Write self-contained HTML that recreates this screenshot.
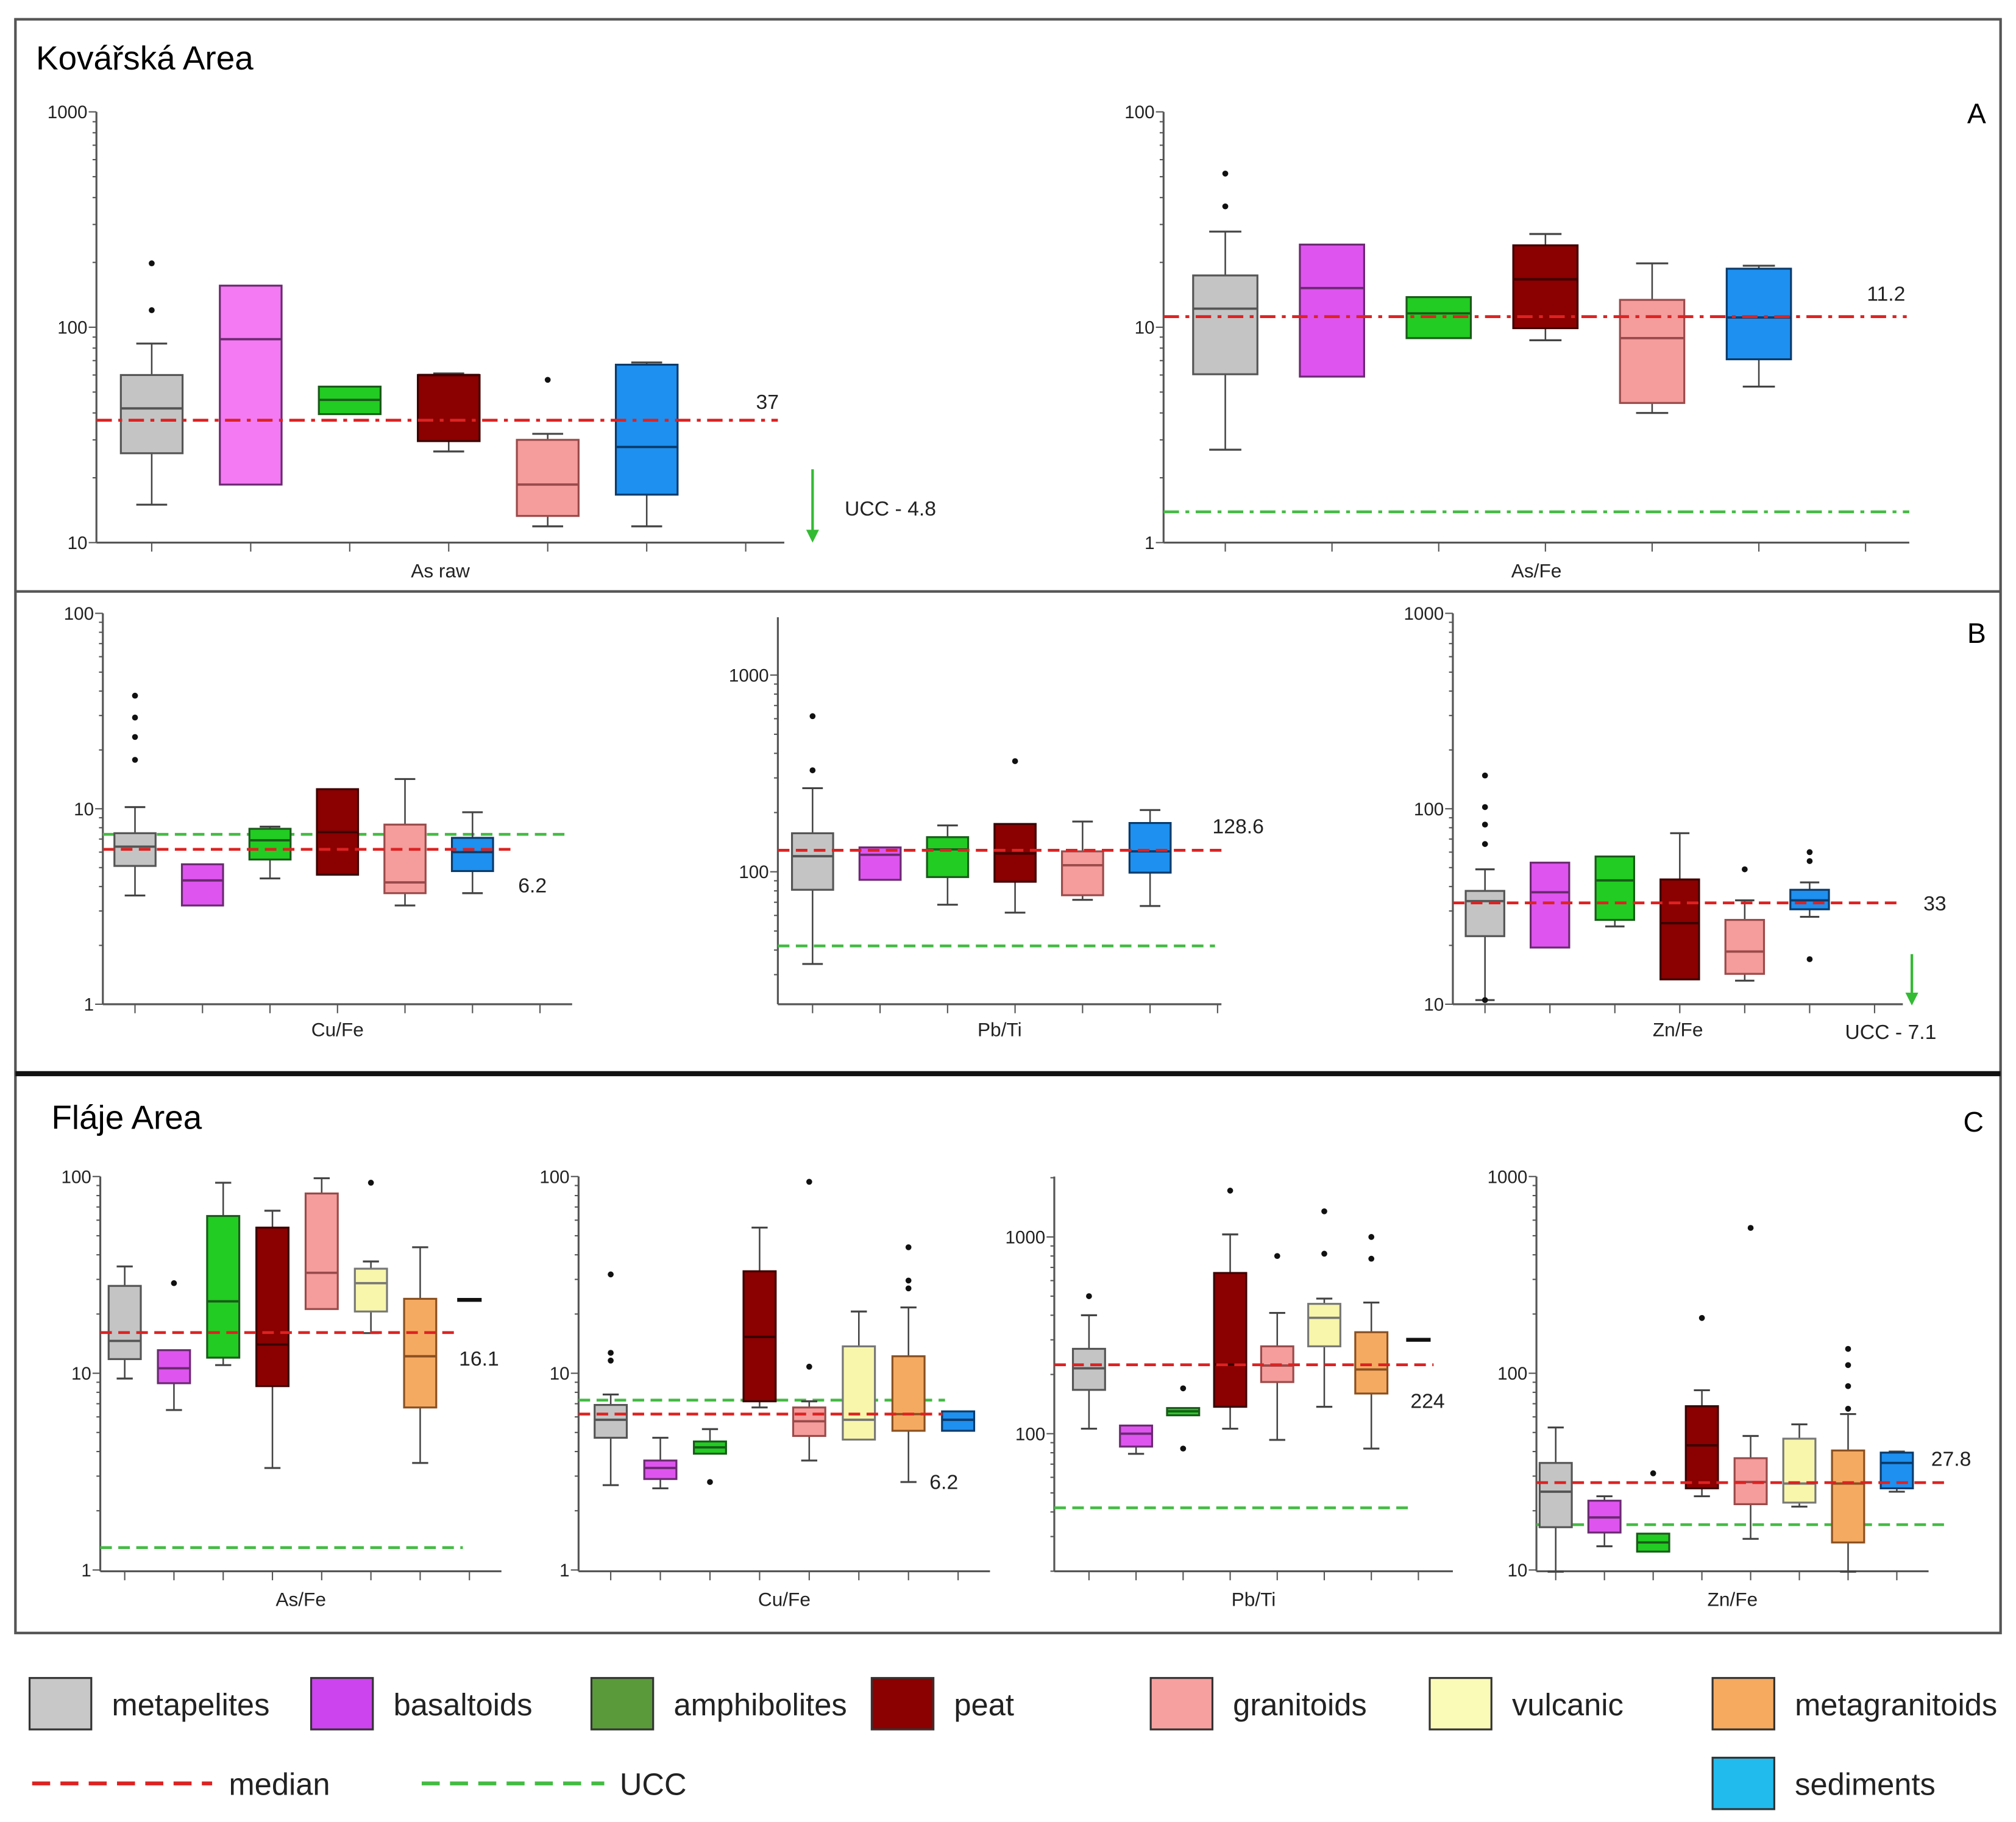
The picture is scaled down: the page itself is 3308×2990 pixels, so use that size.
<!DOCTYPE html>
<html><head><meta charset="utf-8"><style>
html,body{margin:0;padding:0;background:#fff}
svg{display:block}
text{font-family:"Liberation Sans",Arial,sans-serif}
</style></head><body>
<svg id="fig" width="3308" height="2990" viewBox="0 0 1568 1417" preserveAspectRatio="none" xmlns="http://www.w3.org/2000/svg">
<rect x="12" y="15" width="1544" height="1255" fill="none" stroke="#555" stroke-width="2"/>
<line x1="12" y1="460" x2="1556" y2="460" stroke="#555" stroke-width="2"/>
<line x1="12" y1="835" x2="1556" y2="835" stroke="#111" stroke-width="4"/>
<text x="28" y="54" font-size="26">Kovářská Area</text>
<text x="40" y="878" font-size="26">Fláje Area</text>
<text x="1530" y="96" font-size="22">A</text>
<text x="1530" y="500" font-size="22">B</text>
<text x="1527" y="880" font-size="22">C</text>
<g id="charts"></g>
<g id="legend"></g>
</svg>
<script>
const catsK = ["metapelites","basaltoids","amphibolites","peat","granitoids","sediments"];
const catsF = ["metapelites","basaltoids","amphibolites","peat","granitoids","vulcanic","metagranitoids","sediments"];
// [low, q1, median, q3, high] ; null whiskers -> box only
const A1_stats = [[15,26,42,60,84],[18.6,18.6,88,156,156],[39.5,39.5,46,53,53],[26.5,29.6,60,60,61],[11.9,13.3,18.6,30,32],[11.9,16.7,27.8,67,68.6]];
const A1_out = [[198,120],[],[],[],[57],[]];
const A2_stats = [[2.7,6.05,12.2,17.4,27.8],[5.9,5.9,15.2,24.2,24.2],[8.9,8.9,11.6,13.8,13.8],[8.7,9.9,16.7,24,27.1],[4.0,4.45,8.9,13.4,19.8],[5.3,7.1,11.1,18.7,19.3]];
const A2_out = [[51.7,36.4],[],[],[],[],[]];
const B1_stats = [[3.6,5.1,6.4,7.5,10.2],[3.2,3.2,4.3,5.2,5.2],[4.4,5.5,6.9,7.9,8.1],[4.6,4.6,7.6,12.6,12.6],[3.2,3.7,4.2,8.3,14.2],[3.7,4.8,6.0,7.1,9.6]];
const B1_out = [[37.9,29.3,23.3,17.8],[],[],[],[],[]];
const B2_stats = [[34,81,120,157,266],[91,91,122,133,133],[68,94,130,150,172],[62,89,124,175,175],[72,76,108,127,180],[67,99,127,177,206]];
const B2_out = [[618,328],[],[],[365],[],[]];
const B3_stats = [[10.5,22.3,33.7,38,49],[19.5,19.5,37.4,53,53],[25,27,43,57,57],[13.4,13.4,26,43.5,75],[13.2,14.3,18.6,27,34],[28,30.6,34,38.5,42]];
const B3_out = [[148,102,83,66,10.5],[],[],[],[49],[60,54,17]];
const C1_stats = [[9.4,11.8,14.6,27.8,34.9],[6.5,8.9,10.6,13.1,13.1],[11,12,23.2,63,93],[3.3,8.6,14,55,67],[21.2,21.2,32.4,82,98],[16,20.6,28.7,34,37],[3.5,6.7,12.2,23.9,43.7],[23.6,23.6,23.6,23.6,23.6]];
const C1_out = [[],[28.7],[],[],[],[93],[],[]];
const C2_stats = [[2.7,4.7,5.8,6.9,7.8],[2.6,2.9,3.3,3.6,4.7],[3.9,3.9,4.2,4.5,5.2],[6.7,7.2,15.3,33,55],[3.6,4.8,5.7,6.7,7.2],[4.6,4.6,5.8,13.7,20.6],[2.8,5.1,6.2,12.2,21.6],[5.1,5.1,5.8,6.4,6.4]];
const C2_out = [[31.8,12.7,11.6],[],[2.8],[],[94,10.8],[],[43.7,29.6,27.0],[]];
const C3_stats = [[106,167,215,270,400],[79,86,100,110,110],[124,124,130,135,135],[106,137,225,656,1030],[93,183,222,278,411],[137,278,388,457,486],[84,160,212,328,464],[300,300,300,300,300]];
const C3_out = [[500],[],[170,84],[1720],[800],[1350,822],[1000,775],[]];
const C4_stats = [[9.8,16.5,25,35,53],[13.2,15.5,18.5,22.5,23.7],[12.4,12.4,13.8,15.3,15.3],[23.7,26,43,68,82],[14.4,21.6,28,37,48],[21,22,27.5,46.5,55],[9.8,13.8,27.5,40.5,62],[25,26,35,39.5,40]];
const C4_out = [[],[],[31],[191],[548],[],[133,110,86,66],[]];
const medianVals = {A1:37,A2:11.2,B1:6.2,B2:128.6,B3:33,C1:16.1,C2:6.2,C3:224,C4:27.8};
const medianLabels = {A1:"37",A2:"11.2",B1:"6.2",B2:"128.6",B3:"33",C1:"16.1",C2:"6.2",C3:"224",C4:"27.8"};
const uccVals = {A2:1.39,B1:7.4,B2:42,C1:1.3,C2:7.3,C3:42,C4:17};

const fill = {metapelites:"#c4c4c4",basaltoids:"#dd55ee",amphibolites:"#22cc22",peat:"#8b0000",granitoids:"#f59c9c",vulcanic:"#f8f6aa",metagranitoids:"#f5aa62",sediments:"#1e90ef"};
const stroke = {metapelites:"#555",basaltoids:"#6a2a70",amphibolites:"#1a5a1a",peat:"#3a0000",granitoids:"#9a4a4a",vulcanic:"#777",metagranitoids:"#8a5020",sediments:"#0a3a6a"};

const NS="http://www.w3.org/2000/svg";
function mk(tag,attrs,parent){const e=document.createElementNS(NS,tag);for(const k in attrs)e.setAttribute(k,attrs[k]);parent.appendChild(e);return e;}

const charts = [
 {id:"A1",title:"As raw",cats:catsK,stats:A1_stats,out:A1_out,x0:75,x1:610,top:87,bot:422,refV:1000,refY:87,dec:167.5,ticks:[1000,100,10],c0:118,step:77,w:48,medEnd:605,medDash:"12,5,3,5",labX:588,labY:318,lblY:449},
 {id:"A2",title:"As/Fe",cats:catsK,stats:A2_stats,out:A2_out,x0:905,x1:1485,top:87,bot:422,refV:100,refY:87,dec:167.5,ticks:[100,10,1],c0:953,step:83,w:50,medEnd:1483,medDash:"12,5,3,5",labX:1452,labY:234,lblY:449,uccEnd:1485,uccDash:"12,5,3,5"},
 {id:"B1",title:"Cu/Fe",cats:catsK,stats:B1_stats,out:B1_out,x0:80,x1:445,top:477,bot:781,refV:100,refY:477,dec:152,ticks:[100,10,1],c0:105,step:52.5,w:32,medEnd:398,medDash:"9,5",labX:403,labY:694,lblY:806,uccEnd:440,uccDash:"9,5"},
 {id:"B2",title:"Pb/Ti",cats:catsK,stats:B2_stats,out:B2_out,x0:605,x1:950,top:480,bot:781,refV:1000,refY:525,dec:153,ticks:[1000,100],c0:632,step:52.5,w:32,medEnd:955,medDash:"9,5",labX:943,labY:648,lblY:806,uccEnd:945,uccDash:"9,5"},
 {id:"B3",title:"Zn/Fe",cats:catsK,stats:B3_stats,out:B3_out,x0:1130,x1:1480,top:477,bot:781,refV:1000,refY:477,dec:152,ticks:[1000,100,10],c0:1155,step:50.5,w:30,medEnd:1478,medDash:"9,5",labX:1496,labY:708,lblY:806},
 {id:"C1",title:"As/Fe",cats:catsF,stats:C1_stats,out:C1_out,x0:78,x1:390,top:915,bot:1222,refV:100,refY:915,dec:153,ticks:[100,10,1],c0:97,step:38.3,w:25,medEnd:355,medDash:"9,5",labX:357,labY:1062,lblY:1249,uccEnd:360,uccDash:"9,5"},
 {id:"C2",title:"Cu/Fe",cats:catsF,stats:C2_stats,out:C2_out,x0:450,x1:770,top:915,bot:1222,refV:100,refY:915,dec:153,ticks:[100,10,1],c0:475,step:38.6,w:25,medEnd:733,medDash:"9,5",labX:723,labY:1158,lblY:1249,uccEnd:735,uccDash:"9,5"},
 {id:"C3",title:"Pb/Ti",cats:catsF,stats:C3_stats,out:C3_out,x0:820,x1:1130,top:915,bot:1222,refV:1000,refY:962,dec:153,ticks:[1000,100],c0:847,step:36.6,w:25,medEnd:1115,medDash:"9,5",labX:1097,labY:1095,lblY:1249,uccEnd:1095,uccDash:"9,5"},
 {id:"C4",title:"Zn/Fe",cats:catsF,stats:C4_stats,out:C4_out,x0:1195,x1:1500,top:915,bot:1222,refV:1000,refY:915,dec:153,ticks:[1000,100,10],c0:1210,step:37.9,w:25,medEnd:1515,medDash:"9,5",labX:1502,labY:1140,lblY:1249,uccEnd:1515,uccDash:"9,5"}
];

const root=document.getElementById("charts");
charts.forEach(c=>{
  const g=mk("g",{},root);
  
  
  const y=v=>c.refY+(Math.log10(c.refV)-Math.log10(v))*c.dec;
  const xc=i=>c.c0+i*c.step;
  // axes
  const ya=mk("line",{x1:c.x0,y1:c.top,x2:c.x0,y2:c.bot,stroke:"#555","stroke-width":1.5},g);
  
  
  const xa=mk("line",{x1:c.x0,y1:c.bot,x2:c.x1,y2:c.bot,stroke:"#555","stroke-width":1.5},g);
  
  
  // minor ticks
  const lo=Math.log10(c.refV)-(c.bot-c.refY)/c.dec, hi=Math.log10(c.refV)+(c.refY-c.top)/c.dec;
  for(let d=Math.floor(lo);d<=Math.ceil(hi);d++){for(let m=1;m<10;m++){const v=m*Math.pow(10,d);const yy=y(v);if(yy<c.top-0.5||yy>c.bot+0.5)continue;
    mk("line",{x1:c.x0-(m===1?6:3),y1:yy,x2:c.x0,y2:yy,stroke:"#555","stroke-width":1},g);}}
  c.ticks.forEach(t=>{const tl=mk("text",{x:c.x0-7,y:y(t)+5,"font-size":14,"text-anchor":"end",fill:"#222"},g);tl.textContent=t;
    
    });
  for(let i=0;i<=c.cats.length;i++){const xx=xc(i);if(xx>c.x1)break;mk("line",{x1:xx,y1:c.bot,x2:xx,y2:c.bot+7,stroke:"#555","stroke-width":1},g);}
  const tt=mk("text",{x:(c.x0+c.x1)/2,y:c.lblY,"font-size":15,"text-anchor":"middle",fill:"#222"},g);tt.textContent=c.title;
  
  
  // ucc line
  if(uccVals[c.id]!==undefined){const u=mk("line",{x1:c.x0,y1:y(uccVals[c.id]),x2:c.uccEnd,y2:y(uccVals[c.id]),stroke:"#44bb44","stroke-width":2.2,"stroke-dasharray":c.uccDash},g);
    
    }
  // boxes
  c.stats.forEach((s,i)=>{
    const cat=c.cats[i];const x=xc(i);const bg=mk("g",{},g);
    
    
    const [lo,q1,md,q3,hi]=s;
    if(q1===q3){mk("line",{x1:x-c.w/2+3,y1:y(md),x2:x+c.w/2-3,y2:y(md),stroke:"#111","stroke-width":3},bg);return;}
    mk("line",{x1:x,y1:y(hi),x2:x,y2:y(q3),stroke:"#444","stroke-width":1.2},bg);
    mk("line",{x1:x,y1:y(q1),x2:x,y2:y(lo),stroke:"#444","stroke-width":1.2},bg);
    if(hi>q3)mk("line",{x1:x-c.w/4,y1:y(hi),x2:x+c.w/4,y2:y(hi),stroke:"#444","stroke-width":1.5},bg);
    if(lo<q1)mk("line",{x1:x-c.w/4,y1:y(lo),x2:x+c.w/4,y2:y(lo),stroke:"#444","stroke-width":1.5},bg);
    let f=fill[cat]; if(c.id==="A1"&&cat==="basaltoids")f="#f47af4";
    mk("rect",{x:x-c.w/2,y:y(q3),width:c.w,height:y(q1)-y(q3),fill:f,stroke:stroke[cat],"stroke-width":1.5},bg);
    mk("line",{x1:x-c.w/2,y1:y(md),x2:x+c.w/2,y2:y(md),stroke:stroke[cat],"stroke-width":1.8},bg);
    c.out[i].forEach(o=>{const p=mk("circle",{cx:x,cy:y(o),r:2.3,fill:"#111"},bg);
      
      });
  });
  c.out.forEach((arr,i)=>{ if(c.stats[i][1]===c.stats[i][3]) arr.forEach(o=>mk("circle",{cx:xc(i),cy:y(o),r:2.3,fill:"#111"},g)); });
  // median line
  const ml=mk("line",{x1:c.x0,y1:y(medianVals[c.id]),x2:c.medEnd,y2:y(medianVals[c.id]),stroke:"#dd2222","stroke-width":2.2,"stroke-dasharray":c.medDash},g);
  
  
  const mt=mk("text",{x:c.labX,y:c.labY,"font-size":16,fill:"#222"},g);mt.textContent=medianLabels[c.id];
  
  
});
// UCC arrows
[[632,365,422,657,401,"UCC - 4.8"],[1487,742,782,1435,808,"UCC - 7.1"]].forEach(a=>{
  const ag=mk("g",{},root);
  
  
  mk("line",{x1:a[0],y1:a[1],x2:a[0],y2:a[2]-6,stroke:"#33bb33","stroke-width":2},ag);
  mk("path",{d:`M${a[0]-5},${a[2]-10} L${a[0]+5},${a[2]-10} L${a[0]},${a[2]} Z`,fill:"#33bb33"},ag);
  const t=mk("text",{x:a[3],y:a[4],"font-size":16,fill:"#222"},ag);t.textContent=a[5];
});
// legend
const leg=document.getElementById("legend");
const legItems=[["metapelites","#c8c8c8",23,1305],["basaltoids","#cc44ee",242,1305],["amphibolites","#5a9a3a",460,1305],["peat","#8b0000",678,1305],["granitoids","#f7a0a0",895,1305],["vulcanic","#fbfbb8",1112,1305],["metagranitoids","#f5aa60",1332,1305],["sediments","#22bbee",1332,1367]];
legItems.forEach(l=>{
  const e=mk("g",{},leg);
  
  
  mk("rect",{x:l[2],y:l[3],width:48,height:40,fill:l[1],stroke:"#333","stroke-width":1.5},e);
  const t=mk("text",{x:l[2]+64,y:l[3]+29,"font-size":24,fill:"#222"},e);t.textContent=l[0];
});
[["median","#dd2222",25,165,178],["UCC","#44bb44",328,470,482]].forEach(l=>{
  const e=mk("g",{},leg);
  
  
  mk("line",{x1:l[2],y1:1387,x2:l[3],y2:1387,stroke:l[1],"stroke-width":3,"stroke-dasharray":"14,8"},e);
  const t=mk("text",{x:l[4],y:1396,"font-size":24,fill:"#222"},e);t.textContent=l[0];
});
</script>
</body></html>
